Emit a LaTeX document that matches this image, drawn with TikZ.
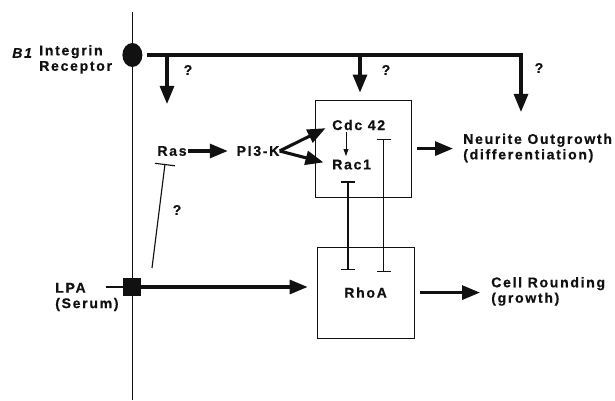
\documentclass[tikz,border=0pt]{standalone}
\usepackage{fontspec}
\setmainfont{Liberation Sans}[LetterSpace=12,BoldFeatures={FakeBold=0.6},BoldItalicFeatures={FakeBold=0.6}]
\usepackage{tikz}
\usetikzlibrary{arrows.meta,shapes.geometric,calc}
\definecolor{Ink}{HTML}{111111}
\tikzset{
  >={Triangle[length=4.5mm,width=3.5mm]},
  lab/.style={font=\fontsize{10}{11}\selectfont\bfseries,inner sep=0pt,align=left,text=Ink},
  membrane/.style={draw=Ink,line width=.6pt},
  sig/.style={->,draw=Ink,line width=2.2pt},
  weak/.style={-{Triangle[length=1.8mm,width=1.2mm]},draw=Ink,line width=.7pt},
  antag/.style={{Bar[width=3.5mm]}-{Bar[width=3.5mm]},draw=Ink,line width=1pt},
  block/.style={-{Bar[width=5mm]},draw=Ink,line width=.8pt},
  gtpbox/.style={draw=Ink,line width=.7pt,inner sep=0pt},
  itgr/.style={ellipse,fill=Ink,minimum width=5mm,minimum height=6mm,inner sep=0pt},
  lpabox/.style={rectangle,fill=Ink,minimum size=4.5mm,inner sep=0pt}
}
\begin{document}
\begin{tikzpicture}[x=1cm,y=1cm]
    \useasboundingbox (0,0) rectangle (15.375,10.025);
    % membrane and receptors
    \coordinate (mtop) at (3.31,9.725); \coordinate (mbot) at (3.31,0.025);
    \draw[membrane] (mtop)--(mbot);
    \node[itgr] (itg) at (3.31,8.65) {};
    \node[lpabox] (lpa) at (3.3,2.85) {};
    \node[lab,anchor=west] (b1) at (0.3,8.7) {\itshape B1};
    \node[lab,anchor=west] (itglab) at (0.975,8.54) {Integrin\\Receptor};
    \node[lab,anchor=west] (lpalab) at (1.375,2.6) {LPA\\(Serum)};
    % signalling nodes
    \node[lab] (ras) at (4.3,6.25) {Ras}; \node[lab] (pik) at (6.45,6.25) {PI3-K};
    \node[gtpbox,minimum width=2.41cm,minimum height=2.425cm] (rcbox) at (9.08,6.31) {};
    \node[lab,anchor=west] (cdc) at (8.3,6.9) {Cdc 42};
    \node[lab,anchor=west] (rac) at (8.3,5.91) {Rac1};
    \node[gtpbox,lab,minimum width=2.425cm,minimum height=2.275cm] (rho) at (9.14,2.71) {RhoA};
    \node[lab,anchor=west] (neur) at (11.575,6.325) {Neurite Outgrowth\\(differentiation)};
    \node[lab,anchor=west] (round) at (12.275,2.74) {Cell Rounding\\(growth)};
    % question marks
    \node[lab] (q1) at (4.7,8.275) {?}; \node[lab] (q2) at (9.65,8.275) {?};
    \node[lab] (q3) at (13.475,8.325) {?}; \node[lab] (q4) at (4.425,4.775) {?};
    % integrin branches
    \coordinate (b0) at (3.675,8.65); \coordinate (br1) at (4.175,8.65);
    \coordinate (br2) at (9.0,8.65); \coordinate (br3) at (13.025,8.65);
    \coordinate (t1) at (4.175,7.425); \coordinate (t3) at (13.025,7.225);
    \draw[sig] (b0)--(br3)--(t3);
    \draw[sig] (br1)--(t1);
    \draw[sig,shorten >=1.75mm] (br2)--(br2 |- rcbox.north);
    % pathway
    \draw[sig,shorten <=.35mm,shorten >=2.15mm] (ras)--(pik);
    \draw[sig,shorten >=1.8mm] (pik.east)--(cdc.west);
    \draw[sig,shorten >=2.2mm] (pik.east)--(rac.west);
    \draw[weak,shorten <=.5mm,shorten >=.8mm] ([xshift=3.5mm]cdc.south west)--([xshift=3.5mm]rac.north west);
    \draw[sig,shorten <=1.35mm,shorten >=2.5mm] (rcbox.east)--(rcbox.east -| neur.west);
    \draw[sig,shorten <=1.45mm,shorten >=2.75mm] (rho.east)--(rho.east -| round.west);
    % mutual antagonism
    \coordinate (racT) at (8.7,5.49); \coordinate (rhoT1) at (8.7,3.275);
    \coordinate (cdcT) at (9.59,6.55); \coordinate (rhoT2) at (9.59,3.225);
    \draw[antag] (racT)--(rhoT1); \draw[antag] (cdcT)--(rhoT2);
    % LPA input
    \coordinate (lpain) at (2.65,2.85);
    \draw[draw=Ink,line width=1.4pt] (lpain)--(lpa);
    \draw[sig,shorten >=2.25mm] (lpa)--(lpa -| rho.west);
    \coordinate (lpaT) at (3.8,3.325); \coordinate (rasT) at (4.125,5.925);
    \draw[block] (lpaT)--(rasT);
  \end{tikzpicture}
\end{document}
